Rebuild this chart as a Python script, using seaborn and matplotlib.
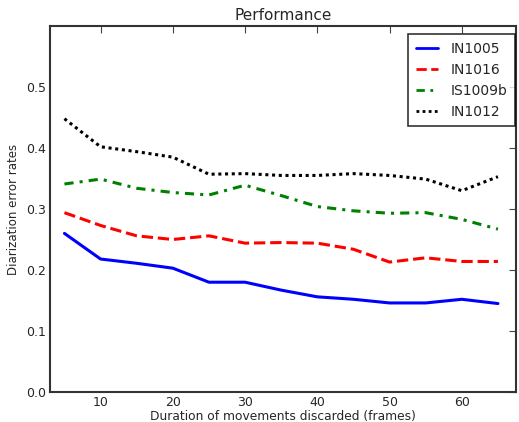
import matplotlib
matplotlib.use("Agg")
import matplotlib.pyplot as plt
import seaborn as sns
import pandas as pd

durations = [5, 10, 15, 20, 25, 30, 35, 40, 45, 50, 55, 60, 65]
in1005 = [0.260, 0.218, 0.211, 0.203, 0.180, 0.180, 0.167, 0.156, 0.152, 0.146, 0.146, 0.152, 0.145]
in1016 = [0.294, 0.273, 0.256, 0.250, 0.256, 0.244, 0.245, 0.244, 0.234, 0.213, 0.220, 0.214, 0.214]
is1009b = [0.341, 0.349, 0.334, 0.327, 0.323, 0.339, 0.322, 0.304, 0.297, 0.293, 0.294, 0.283, 0.267]
in1012 = [0.448, 0.402, 0.394, 0.385, 0.357, 0.358, 0.355, 0.355, 0.358, 0.355, 0.349, 0.330, 0.353]
series_names = ["IN1005", "IN1016", "IS1009b", "IN1012"]

sns.set_style("white")
plt.rcParams['font.family'] = ['DejaVu Sans']

fig = plt.figure(figsize=(5.19, 4.22), dpi=100)
ax = fig.add_axes([50/519, 1-392/422, (516-50)/519, (392-26)/422])

styles = [("blue", "-"), ("red", "--"), ("green", (0, (3, 2, 1, 2))), ("black", (0, (1, 1.2)))]
for name, vals, (c, ls) in zip(series_names, [in1005, in1016, is1009b, in1012], styles):
    df = pd.DataFrame({"x": durations, "y": vals})
    sns.lineplot(data=df, x="x", y="y", ax=ax, color=c, linestyle=ls, linewidth=2.2, label=name)

ax.set_xlim(3, 67.5)
ax.set_ylim(0, 0.6)
ax.set_xticks([10, 20, 30, 40, 50, 60])
ax.set_yticks([0.0, 0.1, 0.2, 0.3, 0.4, 0.5])
ax.tick_params(direction="in", top=True, right=True, length=5, labelsize=9, color="#444444", pad=3)
for s in ax.spines.values():
    s.set_visible(True)
    s.set_color("#333333")
    s.set_linewidth(1.5)
ax.set_title("Performance", fontsize=11, pad=4)
ax.set_xlabel("Duration of movements discarded (frames)", fontsize=8.8, labelpad=0.5)
ax.set_ylabel("Diarization error rates", fontsize=8.5, labelpad=4)
leg = ax.legend(loc="upper right", bbox_to_anchor=(0.998, 0.978), fontsize=10, fancybox=False,
                frameon=True, borderaxespad=0, handlelength=1.6, handletextpad=0.9,
                labelspacing=0.5, borderpad=0.55)
leg.get_frame().set_edgecolor("black")
leg.get_frame().set_linewidth(1.2)
for h in leg.get_lines():
    h.set_linewidth(2)

fig.savefig("out.png", dpi=100)
